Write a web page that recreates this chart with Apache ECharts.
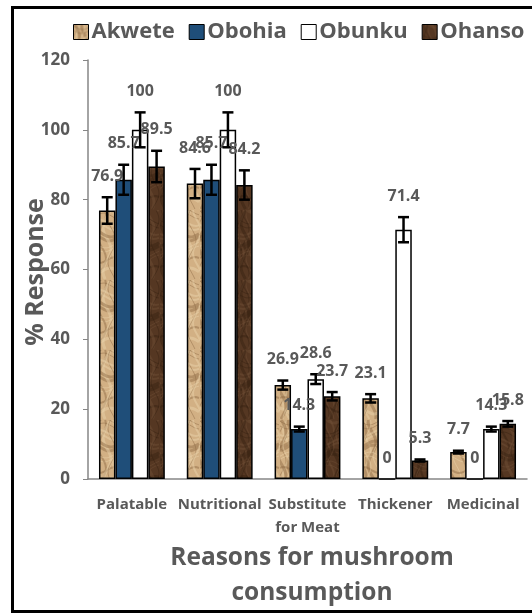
<!DOCTYPE html>
<html>
<head>
<meta charset="utf-8">
<script src="https://cdn.jsdelivr.net/npm/echarts@6/dist/echarts.min.js"></script>
<style>
html,body{margin:0;padding:0;background:#fff;}
#chart{width:532px;height:614px;}
</style>
</head>
<body>
<div id="chart"></div>
<script>
const categories = ['Palatable', 'Nutritional', 'Substitute\nfor Meat', 'Thickener', 'Medicinal'];
const seriesNames = ['Akwete', 'Obohia', 'Obunku', 'Ohanso'];
const akwete = [76.9, 84.6, 26.9, 23.1, 7.7];
const obohia = [85.7, 85.7, 14.3, 0, 0];
const obunku = [100, 100, 28.6, 71.4, 14.3];
const ohanso = [89.5, 84.2, 23.7, 5.3, 15.8];
const akweteErr = [3.8, 4.2, 1.3, 1.2, 0.4];
const obohiaErr = [4.3, 4.3, 0.7, 0, 0];
const obunkuErr = [5.0, 5.0, 1.4, 3.6, 0.7];
const ohansoErr = [4.5, 4.2, 1.2, 0.3, 0.8];
const yTicks = [0, 20, 40, 60, 80, 100, 120];

const values = [akwete, obohia, obunku, ohanso];
const errors = [akweteErr, obohiaErr, obunkuErr, ohansoErr];

function makeTexture(base, light, dark, w, h, seed, alpha) {
  const c = document.createElement('canvas');
  c.width = w; c.height = h;
  const g = c.getContext('2d');
  g.fillStyle = base; g.fillRect(0, 0, w, h);
  for (let i = 0; i < 10; i++) {
    g.strokeStyle = (i % 2) ? light : dark;
    g.globalAlpha = alpha;
    g.lineWidth = 1 + (i % 3);
    g.beginPath();
    for (let y = 0; y <= h; y += 3) {
      const x = ((i * 5 + seed) % w) + 4 * Math.sin(y / 7 + i * 1.3 + seed);
      if (y === 0) g.moveTo(x, y); else g.lineTo(x, y);
    }
    g.stroke();
    g.beginPath();
    for (let x = 0; x <= w; x += 3) {
      const y = ((i * 11 + seed * 3) % h) + 3 * Math.sin(x / 5 + i);
      if (x === 0) g.moveTo(x, y); else g.lineTo(x, y);
    }
    g.stroke();
  }
  g.globalAlpha = 1;
  return c;
}

const akweteTex = makeTexture('#d2b084', '#ecd5ae', '#8c6843', 40, 70, 2, 0.45);
const ohansoTex = makeTexture('#553722', '#74523a', '#321d10', 40, 70, 5, 0.4);

const colors = [
  { image: akweteTex, repeat: 'repeat' },
  '#1f4e79',
  '#ffffff',
  { image: ohansoTex, repeat: 'repeat' }
];

const gray = '#595959';
const FONT = '"Open Sans", sans-serif';

const barSeries = seriesNames.map((name, i) => ({
  name: name,
  type: 'bar',
  data: values[i],
  barGap: '0%',
  barCategoryGap: '25%',
  itemStyle: { color: colors[i], borderColor: '#000', borderWidth: 1.5 }
}));

const errData = [];
for (let s = 0; s < 4; s++) {
  for (let c = 0; c < categories.length; c++) {
    errData.push([c, s, values[s][c], errors[s][c]]);
  }
}

const errSeries = {
  type: 'custom',
  name: 'err',
  z: 10,
  data: errData,
  renderItem: function (params, api) {
    const cat = api.value(0), s = api.value(1), v = api.value(2), e = api.value(3);
    const center = api.coord([cat, 0]);
    const catW = api.size([1, 0])[0];
    const bw = catW * 0.75 / 4;
    const x = center[0] + (s - 1.5) * bw;
    const top = api.coord([cat, v + e])[1];
    const bot = api.coord([cat, v - e])[1];
    const children = [];
    if (e > 0) {
      const st = { stroke: '#000', lineWidth: 2.5 };
      children.push({ type: 'line', shape: { x1: x, y1: top, x2: x, y2: bot }, style: st });
      children.push({ type: 'line', shape: { x1: x - 5.5, y1: top, x2: x + 5.5, y2: top }, style: st });
      children.push({ type: 'line', shape: { x1: x - 5.5, y1: bot, x2: x + 5.5, y2: bot }, style: st });
    }
    children.push({
      type: 'text',
      style: {
        x: x, y: top - 21, text: String(v), align: 'center', verticalAlign: 'middle',
        fill: gray, font: 'bold 16px ' + FONT
      }
    });
    return { type: 'group', children: children };
  }
};

const chart = echarts.init(document.getElementById('chart'), null, { renderer: 'canvas' });
chart.setOption({
  animation: false,
  backgroundColor: '#fff',
  textStyle: { fontFamily: FONT },
  legend: {
    data: seriesNames,
    left: 68,
    top: 16,
    itemWidth: 15,
    itemHeight: 15,
    itemGap: 14,
    icon: 'rect',
    textStyle: { color: gray, fontSize: 22, fontWeight: 'bold', fontFamily: FONT, padding: [0, 0, 0, -2] },
    itemStyle: { borderColor: '#000', borderWidth: 1 }
  },
  grid: { left: 88, right: 5, top: 60, bottom: 135 },
  xAxis: {
    type: 'category',
    data: categories,
    axisLine: { lineStyle: { color: '#868686', width: 1.5 } },
    axisTick: { show: false },
    axisLabel: {
      color: gray, fontSize: 15, fontWeight: 'bold', fontFamily: FONT,
      margin: 14, lineHeight: 23, interval: 0
    }
  },
  yAxis: {
    type: 'value',
    min: 0, max: 120, interval: 20,
    axisLine: { show: true, lineStyle: { color: '#868686', width: 1.5 } },
    axisTick: { show: true, length: 5, lineStyle: { color: '#868686' } },
    splitLine: { show: false },
    axisLabel: {
      color: gray, fontSize: 17, fontWeight: 'bold', fontFamily: FONT, margin: 18,
      formatter: function (v) { return yTicks.indexOf(v) >= 0 ? String(v) : ''; }
    }
  },
  graphic: [
    {
      type: 'rect', left: 10, top: 5, silent: true,
      shape: { width: 540, height: 604 },
      style: { fill: 'none', stroke: '#000', lineWidth: 3 }
    },
    {
      type: 'text', x: 36, y: 272, rotation: Math.PI / 2, silent: true,
      style: { text: '% Response', align: 'center', verticalAlign: 'middle', fill: gray, font: 'bold 25px ' + FONT }
    },
    {
      type: 'text', x: 312, y: 558, silent: true,
      style: { text: 'Reasons for mushroom', align: 'center', verticalAlign: 'middle', fill: gray, font: 'bold 24.5px ' + FONT }
    },
    {
      type: 'text', x: 312, y: 593, silent: true,
      style: { text: 'consumption', align: 'center', verticalAlign: 'middle', fill: gray, font: 'bold 24.5px ' + FONT }
    }
  ],
  series: barSeries.concat([errSeries])
});
</script>
</body>
</html>
